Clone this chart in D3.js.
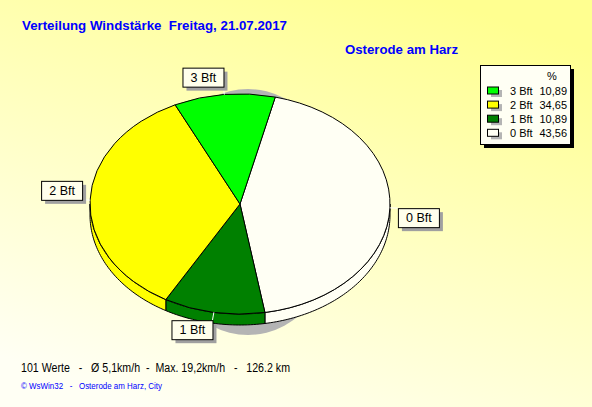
<!DOCTYPE html>
<html><head><meta charset="utf-8">
<script src="https://cdn.jsdelivr.net/npm/d3@7"></script>
<style>body{margin:0;padding:0;overflow:hidden}svg{display:block}text{font-family:"Liberation Sans",Arial,sans-serif;white-space:pre}</style>
</head><body>
<script>
const categories = ["0 Bft", "1 Bft", "2 Bft", "3 Bft"];
const values = [43.56, 10.89, 34.65, 10.89];
const valueLabels = ["43,56", "10,89", "34,65", "10,89"];
const colors = ["#fffff4", "#008000", "#ffff00", "#00ff00"];
const titleText = "Verteilung Windstärke  Freitag, 21.07.2017";
const stationText = "Osterode am Harz";
const statsText = "101 Werte   -   Ø 5,1km/h  -  Max. 19,2km/h   -   126.2 km";
const creditText = "© WsWin32   -   Osterode am Harz, City";

const W = 592, H = 407;
const svg = d3.select("body").append("svg").attr("width", W).attr("height", H);
const defs = svg.append("defs");
const grad = defs.append("linearGradient").attr("id", "bg").attr("x1", 0.75).attr("y1", 0).attr("x2", 0.25).attr("y2", 1);
grad.append("stop").attr("offset", 0).attr("stop-color", "#ffff90");
grad.append("stop").attr("offset", 1).attr("stop-color", "#fffff4");
svg.append("rect").attr("width", W).attr("height", H).attr("fill", "url(#bg)");

// Titles
svg.append("text").attr("x", 22).attr("y", 30).attr("fill", "#0000ff").attr("font-weight", "bold")
  .attr("font-size", 13).attr("textLength", 265).attr("lengthAdjust", "spacingAndGlyphs").text(titleText);
svg.append("text").attr("x", 345).attr("y", 54).attr("fill", "#0000ff").attr("font-weight", "bold")
  .attr("font-size", 13).attr("textLength", 113).attr("lengthAdjust", "spacingAndGlyphs").text(stationText);
svg.append("text").attr("x", 21).attr("y", 372).attr("fill", "#000").attr("font-size", 12)
  .attr("textLength", 269).attr("lengthAdjust", "spacingAndGlyphs").text(statsText);
svg.append("text").attr("x", 21).attr("y", 389).attr("fill", "#0000ff").attr("font-size", 9)
  .attr("textLength", 141).attr("lengthAdjust", "spacingAndGlyphs").text(creditText);

// Pie geometry
const cx = 240, cy = 204, rx = 150, ry = 110, depth = 11;
const data = categories.map((c, i) => ({cat: c, value: values[i], color: colors[i], label: valueLabels[i]}));
const pie = d3.pie().value(d => d.value).sort(null)
  .startAngle(13.6 * Math.PI / 180).endAngle(13.6 * Math.PI / 180 + 2 * Math.PI);
const arcs = pie(data);
const ex = a => cx + rx * Math.sin(a);
const ey = a => cy - ry * Math.cos(a);

// Shadow
svg.append("ellipse").attr("cx", cx + 8).attr("cy", cy + 8).attr("rx", rx - 55).attr("ry", ry + 13)
  .attr("fill", "#b4b4b4");

// Side walls (lower half only)
const line = d3.line();
const TWO = 2 * Math.PI;
arcs.forEach(a => {
  [0, -TWO, TWO].forEach(shift => {
    const s = Math.max(a.startAngle + shift, Math.PI / 2);
    const e = Math.min(a.endAngle + shift, 3 * Math.PI / 2);
    if (e - s <= 0.0001) return;
    const n = Math.max(4, Math.ceil((e - s) / 0.02));
    const top = d3.range(n + 1).map(k => s + (e - s) * k / n);
    const pts = top.map(t => [ex(t), ey(t)]).concat(top.slice().reverse().map(t => [ex(t), ey(t) + depth]));
    svg.append("path").attr("d", line(pts) + "Z").attr("fill", a.data.color)
      .attr("stroke", "#000").attr("stroke-width", 1).attr("stroke-linejoin", "round");
  });
});

// Top faces
const arcGen = d3.arc().innerRadius(0).outerRadius(rx);
const g = svg.append("g").attr("transform", `translate(${cx},${cy}) scale(1,${ry / rx})`);
g.selectAll("path.slice").data(arcs).join("path").attr("class", "slice")
  .attr("d", arcGen).attr("fill", d => d.data.color).attr("stroke", "#000")
  .attr("stroke-width", 1).attr("vector-effect", "non-scaling-stroke");

// Labels
const e = 8;
arcs.forEach(a => {
  const m = (a.startAngle + a.endAngle) / 2;
  const px = ex(m), py = ey(m);
  const lx = cx + (rx + e) * Math.sin(m), ly = cy - (ry + e) * Math.cos(m);
  svg.append("line").attr("x1", px).attr("y1", py).attr("x2", lx).attr("y2", ly)
    .attr("stroke", "#ffffff").attr("stroke-width", 1);
  const t = svg.append("text").attr("font-size", 12.5).attr("text-anchor", "middle").attr("fill", "#000").text(a.data.cat);
  const tw = t.node().getComputedTextLength();
  const bw = Math.round(tw + 15), bh = 19;
  const bx = Math.sin(m) >= 0 ? lx : lx - bw;
  const by = Math.cos(m) >= 0 ? ly - bh : ly;
  svg.insert("rect", () => t.node()).attr("x", bx + 4).attr("y", by + 4).attr("width", bw).attr("height", bh).attr("fill", "#a0a0a0");
  svg.insert("rect", () => t.node()).attr("x", bx + 0.5).attr("y", by + 0.5).attr("width", bw).attr("height", bh)
    .attr("fill", "#ffffec").attr("stroke", "#000").attr("stroke-width", 1);
  t.attr("x", bx + bw / 2 + 0.5).attr("y", by + 14);
});

// Legend
const lg = svg.append("g");
const LX = 480, LY = 65, LW = 90, LH = 79;
lg.append("rect").attr("x", LX + 4).attr("y", LY + 4).attr("width", LW).attr("height", LH).attr("fill", "#000");
lg.append("rect").attr("x", LX + 0.5).attr("y", LY + 0.5).attr("width", LW).attr("height", LH)
  .attr("fill", "#fffff4").attr("stroke", "#000");
lg.append("text").attr("x", 552).attr("y", 80).attr("font-size", 11).attr("text-anchor", "middle").text("%");
const legendData = data.slice().reverse();
legendData.forEach((d, i) => {
  const yc = 90.5 + i * 14.1;
  lg.append("rect").attr("x", 491).attr("y", yc - 3.5 + 3).attr("width", 11).attr("height", 7).attr("fill", "#b4b4b4");
  lg.append("rect").attr("x", 487.5).attr("y", yc - 3.5).attr("width", 11).attr("height", 7)
    .attr("fill", d.color).attr("stroke", "#000");
  lg.append("text").attr("x", 510).attr("y", yc + 4).attr("font-size", 11).text(d.cat);
  lg.append("text").attr("x", 567).attr("y", yc + 4).attr("font-size", 11).attr("text-anchor", "end").text(d.label);
});
</script>
</body></html>
